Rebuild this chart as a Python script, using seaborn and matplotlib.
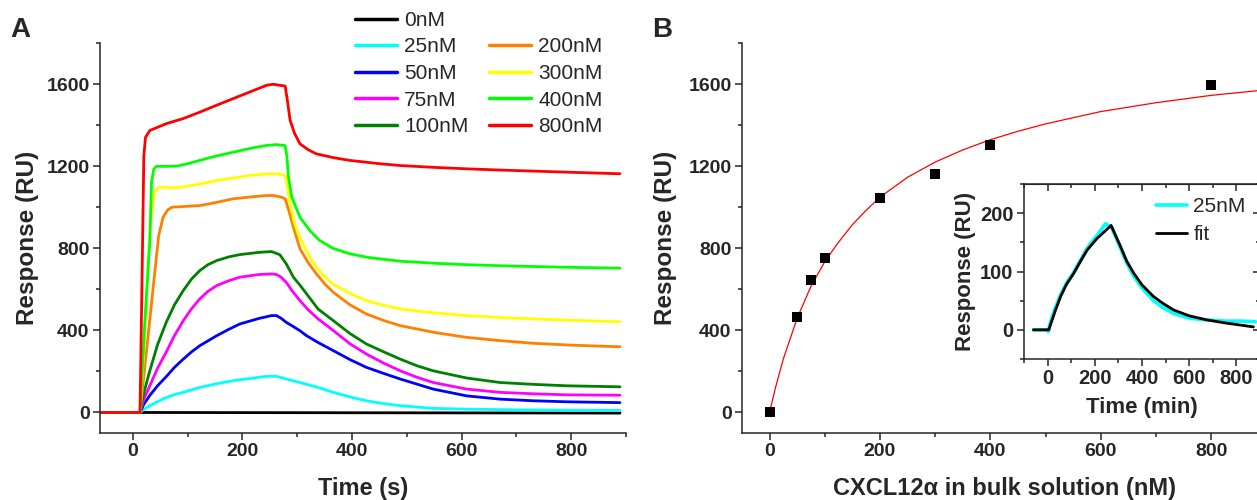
import matplotlib.pyplot as plt
import seaborn as sns
import numpy as np
import pandas as pd
from matplotlib.lines import Line2D
from matplotlib.ticker import MultipleLocator

sns.set_style('ticks')
plt.rcParams['font.family'] = ['Liberation Sans', 'DejaVu Sans']

# ---- panel A: sensorgrams (time in s, response in RU) ----
t_0 = [-60, 13, 889]
r_0 = [0, 0, -3]

t_25 = [-60, 13, 20, 31, 45, 61, 76, 92, 122, 153, 183, 215, 244, 262, 280, 305, 338, 366, 396, 426, 458, 488, 548, 609, 670, 731, 800, 889]
r_25 = [0, 0, 15, 33, 53, 73, 87, 98, 122, 140, 155, 166, 176, 176, 163, 146, 122, 98, 76, 57, 43, 33, 20, 16, 14, 12, 11, 10]

t_50 = [-60, 13, 20, 30, 45, 61, 76, 92, 107, 122, 153, 175, 195, 230, 253, 262, 270, 280, 292, 305, 317, 338, 366, 396, 426, 458, 488, 548, 609, 670, 731, 792, 889]
r_50 = [0, 0, 40, 80, 130, 175, 220, 260, 295, 325, 374, 405, 431, 458, 472, 472, 460, 439, 420, 398, 374, 341, 301, 258, 220, 190, 163, 114, 81, 65, 57, 52, 48]

t_75 = [-60, 13, 20, 30, 45, 61, 76, 92, 107, 122, 137, 153, 175, 195, 230, 253, 262, 270, 280, 290, 305, 320, 338, 366, 396, 426, 458, 488, 518, 548, 609, 670, 731, 792, 889]
r_75 = [0, 0, 65, 125, 215, 295, 375, 447, 505, 553, 590, 618, 642, 659, 672, 675, 672, 660, 634, 595, 545, 500, 456, 399, 335, 285, 240, 203, 172, 146, 114, 98, 91, 86, 84]

t_100 = [-60, 13, 20, 30, 45, 61, 76, 92, 107, 122, 137, 153, 175, 195, 230, 253, 268, 280, 293, 305, 317, 338, 366, 396, 426, 458, 488, 518, 548, 609, 670, 731, 792, 889]
r_100 = [0, 0, 95, 195, 330, 440, 525, 594, 650, 691, 720, 740, 758, 769, 780, 784, 769, 724, 659, 620, 578, 504, 447, 385, 334, 295, 260, 228, 203, 168, 146, 137, 130, 125]

t_200 = [-60, 13, 30, 47, 55, 63, 71, 90, 122, 150, 183, 215, 244, 256, 270, 278, 285, 293, 305, 320, 335, 350, 366, 396, 426, 458, 488, 550, 609, 670, 731, 800, 889]
r_200 = [0, 0, 430, 860, 950, 985, 1000, 1003, 1008, 1022, 1041, 1050, 1057, 1057, 1050, 1041, 980, 902, 797, 730, 675, 627, 585, 525, 480, 448, 423, 390, 366, 350, 337, 328, 320]

t_300 = [-60, 13, 22, 31, 38, 44, 49, 70, 92, 122, 153, 183, 213, 250, 265, 278, 282, 287, 295, 305, 320, 335, 350, 365, 396, 426, 458, 488, 550, 609, 670, 731, 800, 889]
r_300 = [0, 0, 400, 885, 1060, 1090, 1098, 1095, 1098, 1113, 1130, 1142, 1155, 1163, 1162, 1155, 1100, 1017, 920, 850, 770, 707, 662, 626, 580, 545, 522, 504, 485, 472, 463, 456, 449, 442]

t_400 = [-60, 13, 22, 31, 34, 38, 43, 60, 80, 100, 122, 150, 183, 215, 244, 262, 278, 281, 284, 290, 305, 323, 340, 365, 396, 430, 488, 550, 609, 670, 731, 800, 889]
r_400 = [0, 0, 450, 840, 1120, 1185, 1199, 1199, 1200, 1212, 1228, 1248, 1268, 1287, 1301, 1305, 1300, 1250, 1146, 1050, 951, 886, 840, 800, 773, 755, 737, 727, 720, 715, 711, 707, 703]

t_800 = [-60, 13, 17, 20, 23, 31, 61, 92, 122, 153, 183, 214, 244, 256, 278, 282, 287, 295, 305, 320, 335, 365, 396, 450, 488, 550, 609, 670, 731, 800, 889]
r_800 = [0, 0, 700, 1250, 1340, 1374, 1407, 1432, 1463, 1497, 1529, 1562, 1594, 1599, 1590, 1520, 1423, 1360, 1309, 1280, 1260, 1242, 1228, 1212, 1203, 1194, 1187, 1181, 1176, 1170, 1163]

conc_labels = ['0nM', '25nM', '50nM', '75nM', '100nM', '200nM', '300nM', '400nM', '800nM']
conc_colors = ['#000000', '#00FFFF', '#0000FF', '#FF00FF', '#008000',
               '#FF8000', '#FFFF00', '#00FF00', '#FF0000']
curves = [(t_0, r_0), (t_25, r_25), (t_50, r_50), (t_75, r_75), (t_100, r_100),
          (t_200, r_200), (t_300, r_300), (t_400, r_400), (t_800, r_800)]

# ---- panel B: equilibrium response vs concentration ----
conc_nM = [0, 50, 75, 100, 200, 300, 400, 800]
resp_eq = [0, 463, 646, 751, 1047, 1161, 1304, 1594]
fit_conc = [0, 10, 25, 50, 75, 100, 125, 150, 175, 200, 250, 300, 350, 400, 450, 500, 600, 700, 800, 900]
fit_resp = [0, 115, 262, 460, 615, 735, 830, 915, 985, 1049, 1146, 1220, 1279, 1329, 1370, 1406, 1466, 1509, 1545, 1572]

# ---- inset: 25nM sensorgram and kinetic fit ----
ins_t_data = [-60, 0, 3, 10, 30, 55, 80, 111, 140, 168, 190, 210, 230, 245, 260, 270, 290, 309, 335, 365, 400, 449, 490, 534, 600, 675, 750, 820, 880]
ins_r_data = [0, 0, -3, 10, 35, 60, 80, 99, 120, 140, 152, 162, 173, 182, 178, 177, 158, 140, 115, 92, 72, 50, 38, 28, 20, 17, 15, 15, 14]
ins_t_fit = [-60, 0, 5, 30, 55, 80, 111, 140, 168, 210, 240, 269, 290, 309, 335, 365, 400, 449, 490, 534, 600, 675, 750, 820, 872]
ins_r_fit = [0, 0, 0, 30, 57, 78, 97, 118, 137, 157, 168, 179, 160, 143, 118, 97, 77, 57, 45, 34, 24, 17, 12, 8, 5]

df = pd.DataFrame(
    [(lab, t, r) for lab, (ts, rs) in zip(conc_labels, curves) for t, r in zip(ts, rs)],
    columns=['conc', 'time', 'resp'])

fig = plt.figure(figsize=(12.57, 5), dpi=100)
W, H = 1257, 500


def style(ax, tsize=14):
    ax.tick_params(which='major', direction='out', length=5, width=1.1, labelsize=tsize, pad=2.5)
    ax.tick_params(which='minor', direction='out', length=3, width=1.1)
    for s in ax.spines.values():
        s.set_linewidth(1.1)
    plt.setp(ax.get_xticklabels() + ax.get_yticklabels(), fontweight='bold')


# ---------------- panel A ----------------
axA = fig.add_axes([100 / W, 67 / H, 526 / W, 390 / H])
sns.lineplot(data=df, x='time', y='resp', hue='conc', hue_order=conc_labels,
             palette=dict(zip(conc_labels, conc_colors)), estimator=None, sort=False,
             lw=2.0, legend=False, ax=axA)
axA.set_xlim(-60, 900)
axA.set_ylim(-100, 1800)
axA.set_xticks([0, 200, 400, 600, 800])
axA.set_yticks([0, 400, 800, 1200, 1600])
axA.xaxis.set_minor_locator(MultipleLocator(100))
axA.yaxis.set_minor_locator(MultipleLocator(200))
sns.despine(ax=axA)
style(axA)
axA.set_xlabel('Time (s)', fontsize=17, fontweight='bold', labelpad=12)
axA.set_ylabel('Response (RU)', fontsize=17.5, fontweight='bold', labelpad=5)

handles = [Line2D([], [], color=c, lw=2.5) for c in conc_colors]
blank = Line2D([], [], alpha=0)
leg_h = handles[:5] + [blank] + handles[5:]
leg_l = conc_labels[:5] + [''] + conc_labels[5:]
axA.legend(leg_h, leg_l, ncol=2, loc='upper left', bbox_to_anchor=(355 / W, 1 - 11 / H),
           bbox_transform=fig.transFigure, frameon=False, fontsize=15,
           handlelength=2.0, handletextpad=0.35, columnspacing=1.0,
           labelspacing=0.36, borderpad=0, borderaxespad=0)

fig.text(10 / W, 1 - 37 / H, 'A', fontsize=20, fontweight='bold', va='baseline')

# ---------------- panel B ----------------
axB = fig.add_axes([742 / W, 67 / H, 524.4 / W, 390 / H])
sns.lineplot(x=fit_conc, y=fit_resp, color='#FF0000', lw=0.9, ax=axB)
sns.scatterplot(x=conc_nM, y=resp_eq, marker='s', s=60, color='black',
                edgecolor='black', linewidth=0, zorder=3, ax=axB)
axB.set_xlim(-50, 900)
axB.set_ylim(-100, 1800)
axB.set_xticks([0, 200, 400, 600, 800])
axB.set_yticks([0, 400, 800, 1200, 1600])
axB.xaxis.set_minor_locator(MultipleLocator(100))
axB.yaxis.set_minor_locator(MultipleLocator(200))
sns.despine(ax=axB)
style(axB)
axB.set_xlabel('CXCL12α in bulk solution (nM)', fontsize=17, fontweight='bold', labelpad=12)
axB.set_ylabel('Response (RU)', fontsize=17.5, fontweight='bold', labelpad=8)

fig.text(652 / W, 1 - 37 / H, 'B', fontsize=20, fontweight='bold', va='baseline')

# ---------------- inset ----------------
axI = fig.add_axes([1024 / W, 141 / H, 236 / W, 175 / H])
axI.set_facecolor('white')
sns.lineplot(x=ins_t_data, y=ins_r_data, color='#00FFFF', lw=2.6, sort=False,
             estimator=None, label='25nM', ax=axI)
sns.lineplot(x=ins_t_fit, y=ins_r_fit, color='black', lw=2.0, sort=False,
             estimator=None, label='fit', ax=axI)
axI.set_xlim(-100, 900)
axI.set_ylim(-50, 250)
axI.set_xticks([0, 200, 400, 600, 800])
axI.set_yticks([0, 100, 200])
axI.xaxis.set_minor_locator(MultipleLocator(100))
axI.yaxis.set_minor_locator(MultipleLocator(50))
style(axI, tsize=14.5)
axI.set_xlabel('Time (min)', fontsize=16, fontweight='bold', labelpad=6)
axI.set_ylabel('Response (RU)', fontsize=16, fontweight='bold', labelpad=3)
top = axI.secondary_xaxis('top')
top.set_xticks([0, 200, 400, 600, 800])
top.xaxis.set_minor_locator(MultipleLocator(100))
top.tick_params(which='both', direction='in', labeltop=False, width=1.1)
top.tick_params(which='major', length=5)
top.tick_params(which='minor', length=3)
right = axI.secondary_yaxis('right')
right.set_yticks([0, 100, 200])
right.yaxis.set_minor_locator(MultipleLocator(50))
right.tick_params(which='both', direction='in', labelright=False, width=1.1)
right.tick_params(which='major', length=5)
right.tick_params(which='minor', length=3)
axI.legend(loc='upper left', bbox_to_anchor=(1156 / W, 1 - 197 / H),
           bbox_transform=fig.transFigure, frameon=False, fontsize=15,
           handlelength=1.5, handletextpad=0.3, labelspacing=0.45,
           borderpad=0, borderaxespad=0)

fig.savefig('out.png', dpi=100)
